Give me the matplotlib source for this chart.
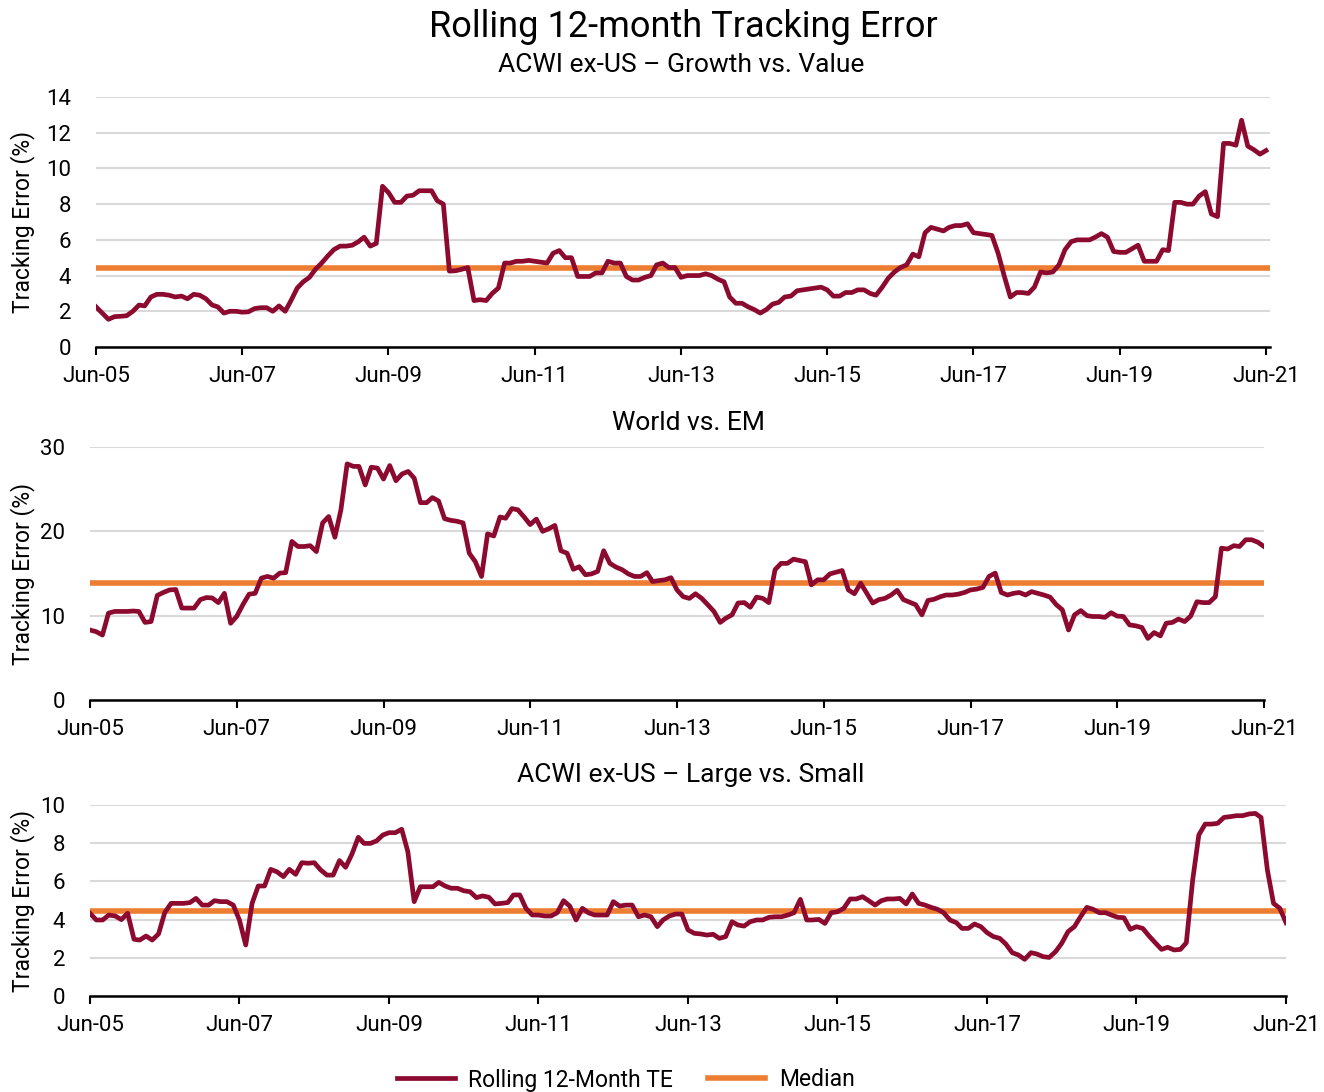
import numpy as np
import pandas as pd
import matplotlib
matplotlib.use("Agg")
import matplotlib.pyplot as plt
import matplotlib.dates as mdates

plt.rcParams['font.family'] = ['Roboto', 'DejaVu Sans']

# monthly observations, Jun-05 .. Jun-21
dates = pd.date_range('2005-06-30', periods=193, freq='ME')

growth_value = [
    2.25, 1.9, 1.55, 1.7, 1.72, 1.75, 2.0, 2.35, 2.3, 2.8, 2.95, 2.95,
    2.9, 2.8, 2.85, 2.7, 2.95, 2.9, 2.7, 2.35, 2.25, 1.9, 2.0, 2.0,
    1.95, 1.97, 2.15, 2.2, 2.2, 2.0, 2.3, 2.0, 2.6, 3.3, 3.65, 3.9,
    4.35, 4.7, 5.1, 5.45, 5.65, 5.65, 5.7, 5.9, 6.15, 5.65, 5.8, 9.0,
    8.65, 8.1, 8.1, 8.45, 8.5, 8.75, 8.75, 8.75, 8.2, 8.0, 4.25, 4.27,
    4.35, 4.45, 2.6, 2.65, 2.6, 3.0, 3.3, 4.7, 4.7, 4.8, 4.8, 4.85,
    4.8, 4.75, 4.7, 5.25, 5.4, 5.0, 5.0, 3.95, 3.95, 3.95, 4.15, 4.15,
    4.8, 4.7, 4.7, 3.95, 3.75, 3.75, 3.9, 4.0, 4.6, 4.7, 4.45, 4.45,
    3.9, 4.0, 4.0, 4.0, 4.1, 4.0, 3.8, 3.65, 2.8, 2.45, 2.45, 2.25,
    2.1, 1.9, 2.1, 2.4, 2.5, 2.8, 2.85, 3.15, 3.2, 3.25, 3.3, 3.35,
    3.2, 2.85, 2.85, 3.05, 3.05, 3.2, 3.2, 3.0, 2.9, 3.35, 3.85, 4.2,
    4.45, 4.6, 5.2, 5.05, 6.4, 6.7, 6.6, 6.5, 6.7, 6.8, 6.8, 6.9,
    6.4, 6.35, 6.3, 6.25, 5.25, 4.0, 2.8, 3.05, 3.05, 3.0, 3.35, 4.2,
    4.15, 4.2, 4.6, 5.45, 5.9, 6.0, 6.0, 6.0, 6.15, 6.35, 6.15, 5.35,
    5.3, 5.3, 5.5, 5.7, 4.8, 4.8, 4.8, 5.45, 5.4, 8.1, 8.1, 8.0,
    8.0, 8.45, 8.7, 7.45, 7.3, 11.4, 11.4, 11.3, 12.7, 11.25, 11.05, 10.8,
    11.0,
]

world_em = [
    8.3, 8.1, 7.7, 10.3, 10.5, 10.5, 10.5, 10.55, 10.5, 9.2, 9.3, 12.4,
    12.75, 13.05, 13.1, 10.9, 10.9, 10.9, 11.9, 12.15, 12.1, 11.55, 12.65, 9.1,
    9.9, 11.3, 12.55, 12.65, 14.45, 14.65, 14.45, 15.05, 15.1, 18.8, 18.2, 18.2,
    18.3, 17.6, 21.0, 21.75, 19.3, 22.55, 28.0, 27.7, 27.7, 25.5, 27.6, 27.5,
    26.2, 27.8, 26.0, 26.8, 27.1, 26.3, 23.4, 23.4, 24.0, 23.6, 21.5, 21.3,
    21.2, 21.0, 17.4, 16.4, 14.65, 19.7, 19.45, 21.7, 21.55, 22.7, 22.55, 21.7,
    20.8, 21.45, 20.0, 20.3, 20.7, 17.7, 17.4, 15.5, 15.8, 14.85, 14.95, 15.25,
    17.7, 16.2, 15.75, 15.45, 14.95, 14.65, 14.65, 15.1, 14.05, 14.15, 14.25, 14.5,
    13.05, 12.25, 12.05, 12.6, 12.05, 11.3, 10.5, 9.2, 9.7, 10.1, 11.5, 11.55,
    11.0, 12.2, 12.05, 11.55, 15.45, 16.2, 16.2, 16.7, 16.55, 16.4, 13.65, 14.25,
    14.25, 14.95, 15.15, 15.35, 13.05, 12.6, 13.85, 12.65, 11.5, 11.9, 12.05, 12.45,
    13.0, 11.9, 11.6, 11.3, 10.1, 11.8, 11.95, 12.25, 12.45, 12.45, 12.55, 12.75,
    13.05, 13.15, 13.35, 14.65, 15.05, 12.75, 12.45, 12.65, 12.75, 12.45, 12.85, 12.65,
    12.45, 12.2, 11.3, 10.7, 8.3, 10.1, 10.6, 10.0, 9.9, 9.9, 9.8, 10.35,
    9.95, 9.9, 8.9, 8.8, 8.6, 7.3, 8.0, 7.6, 9.1, 9.2, 9.6, 9.3,
    9.95, 11.65, 11.55, 11.55, 12.25, 18.0, 17.9, 18.3, 18.2, 19.0, 19.0, 18.7,
    18.2,
]

large_small = [
    4.33, 3.98, 3.98, 4.24, 4.19, 4.0, 4.33, 2.97, 2.93, 3.14, 2.93, 3.25,
    4.36, 4.85, 4.85, 4.85, 4.89, 5.11, 4.76, 4.76, 4.99, 4.94, 4.94, 4.76,
    3.98, 2.67, 4.85, 5.76, 5.76, 6.63, 6.5, 6.25, 6.63, 6.37, 6.98, 6.95,
    6.98, 6.6, 6.33, 6.33, 7.09, 6.74, 7.43, 8.31, 7.99, 7.99, 8.12, 8.43,
    8.55, 8.55, 8.73, 7.56, 4.94, 5.72, 5.72, 5.72, 5.95, 5.76, 5.64, 5.64,
    5.51, 5.46, 5.15, 5.24, 5.17, 4.82, 4.85, 4.89, 5.29, 5.29, 4.59, 4.24,
    4.24, 4.19, 4.19, 4.36, 4.99, 4.71, 3.98, 4.59, 4.36, 4.24, 4.24, 4.24,
    4.94, 4.71, 4.76, 4.76, 4.15, 4.24, 4.15, 3.63, 3.98, 4.19, 4.29, 4.29,
    3.46, 3.28, 3.25, 3.19, 3.23, 3.02, 3.11, 3.89, 3.72, 3.66, 3.89, 3.98,
    3.98, 4.12, 4.15, 4.15, 4.24, 4.36, 5.06, 3.98, 3.98, 4.01, 3.8, 4.36,
    4.41, 4.59, 5.08, 5.08, 5.2, 4.99, 4.76, 4.99, 5.08, 5.08, 5.11, 4.82,
    5.34, 4.85, 4.76, 4.64, 4.54, 4.36, 3.98, 3.84, 3.54, 3.54, 3.77, 3.63,
    3.32, 3.11, 3.02, 2.72, 2.27, 2.15, 1.92, 2.27, 2.2, 2.06, 2.02, 2.32,
    2.76, 3.37, 3.63, 4.15, 4.64, 4.54, 4.36, 4.36, 4.24, 4.12, 4.1, 3.49,
    3.63, 3.54, 3.14, 2.79, 2.44, 2.55, 2.41, 2.44, 2.79, 6.07, 8.43, 9.0,
    9.0, 9.04, 9.35, 9.39, 9.44, 9.44, 9.53, 9.56, 9.35, 6.6, 4.85, 4.59,
    3.84,
]

medians = [4.4, 13.9, 4.45]
titles = ['ACWI ex-US \u2013 Growth vs. Value', 'World vs. EM',
          'ACWI ex-US \u2013 Large vs. Small']
y_max = [14, 30, 10]
y_step = [2, 10, 2]

te_color = '#8C0A2F'
med_color = '#ED7D31'
W, H = 1324, 1092

fig = plt.figure(figsize=(W / 100, H / 100), dpi=100)

# axes boxes in pixels: left, right, y of 0, y of top
boxes = [(96, 1270, 347, 97), (90, 1264, 700, 447), (90, 1286, 996, 805)]
right_pad_days = [20, 0, 0]
title_pos = [(681, 65), (688, 423), (691, 775)]

series = [growth_value, world_em, large_small]
axes = []
for i, (l, r, yb, yt) in enumerate(boxes):
    ax = fig.add_axes([l / W, 1 - yb / H, (r - l) / W, (yb - yt) / H])
    ax.plot(dates, series[i], color=te_color, lw=3.4, zorder=3,
            solid_joinstyle='round', label='Rolling 12-Month TE')
    ax.axhline(medians[i], color=med_color, lw=4.0, zorder=2, label='Median')
    ax.set_ylim(0, y_max[i])
    ax.set_yticks(np.arange(0, y_max[i] + 1, y_step[i]))
    ax.set_xlim(dates[0], dates[-1] + pd.Timedelta(days=right_pad_days[i]))
    ax.set_xticks(dates[::24])
    ax.xaxis.set_major_formatter(mdates.DateFormatter('%b-%y'))
    ax.grid(axis='y', color='#D9D9D9', lw=1.5)
    ax.set_axisbelow(True)
    for s in ['top', 'right', 'left']:
        ax.spines[s].set_visible(False)
    ax.spines['bottom'].set_linewidth(1.8)
    ax.spines['bottom'].set_zorder(4)
    ax.tick_params(axis='x', length=6, width=1.5, labelsize=16, pad=8)
    ax.tick_params(axis='y', length=0, labelsize=16, pad=18)
    ax.set_ylabel('Tracking Error (%)', fontsize=16.5)
    ax.yaxis.set_label_coords(-(l - 35) / (r - l), 0.5)
    tx, ty = title_pos[i]
    fig.text(tx / W, 1 - ty / H, titles[i], ha='center', va='center', fontsize=19)
    axes.append(ax)

fig.text(683 / W, 1 - 27 / H, 'Rolling 12-month Tracking Error', ha='center',
         va='center', fontsize=26)

handles, labels = axes[0].get_legend_handles_labels()
fig.legend(handles, labels, loc='center', bbox_to_anchor=(626 / W, 1 - 1080 / H),
           ncol=2, frameon=False, fontsize=16.5, handlelength=2.5,
           columnspacing=1.5, handletextpad=0.6)

fig.savefig('out.png', dpi=100)
